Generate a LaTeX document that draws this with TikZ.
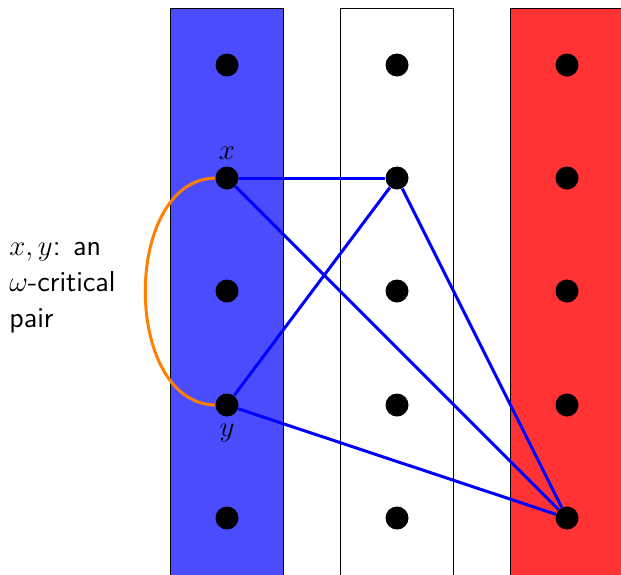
\documentclass[tikz,border=0pt]{standalone}
\begin{document}
\begin{tikzpicture}[x=0.5pt,y=-0.5pt,
  dot/.style={circle,fill=black,inner sep=0pt,minimum size=11.5pt},
  edge/.style={blue,line width=1.5pt},
  col/.style={draw=black,line width=0.4pt}]
\useasboundingbox (0,0) rectangle (621,574);
\begin{scope}
\clip (0,0) rectangle (621,574);
\draw[col,fill=blue!70] (170,8) rectangle (283,600);
\draw[col,fill=white] (340,8) rectangle (453,600);
\draw[col,fill=red!80] (510,8) rectangle (623,600);
\end{scope}
\foreach \c/\x in {a/227,b/397,c/567}{
  \foreach \r/\y in {1/65,2/178,3/291,4/405,5/518}{
    \node[dot] (\c\r) at (\x,\y) {};
  }
}
\node[above=0pt,font=\Large] (lx) at (a2.north) {$x$};
\node[below=0pt,font=\Large] (ly) at (a4.south) {$y$};
\draw[edge] (a2) -- (b2);
\draw[edge] (a2) -- (c5);
\draw[edge] (a4) -- (b2);
\draw[edge] (a4) -- (c5);
\draw[edge] (b2) -- (c5);
\draw[orange,line width=1.5pt] (a2.west) .. controls (122,180) and (122,403) .. (a4.west);
\node[anchor=north west,align=left,inner sep=0pt,font=\Large\sffamily] (lab) at (9,242) {$x,y$: an\\$\omega$-critical\\pair};
\end{tikzpicture}
\end{document}
